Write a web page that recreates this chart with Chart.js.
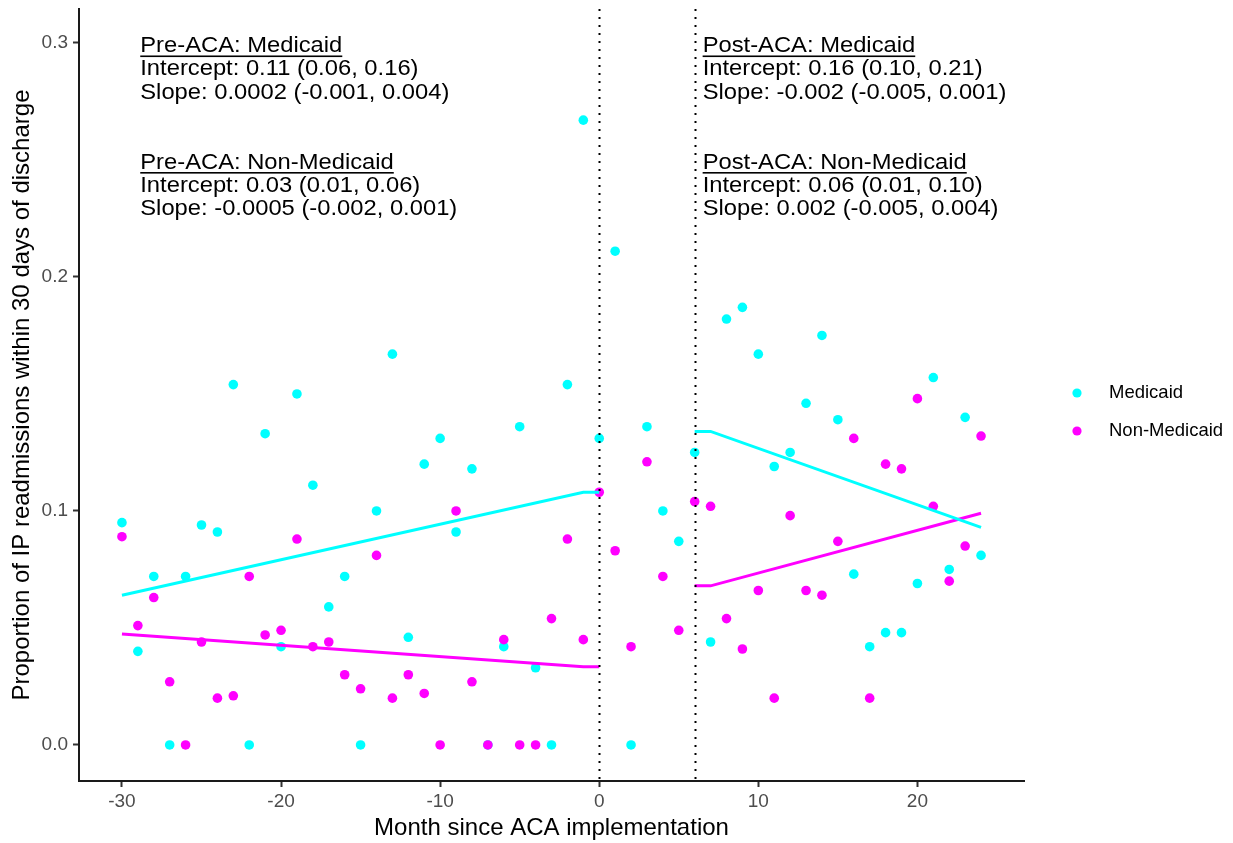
<!DOCTYPE html>
<html>
<head>
<meta charset="utf-8">
<script src="https://cdn.jsdelivr.net/npm/chart.js@4/dist/chart.umd.min.js"></script>
<style>
  html, body { margin: 0; padding: 0; background: #ffffff; }
  #wrap { width: 1233px; height: 843px; position: relative; }
</style>
</head>
<body>
<div id="wrap"><canvas id="chart" width="1233" height="843"></canvas></div>
<script>
// Months relative to ACA implementation
const months = [-30, -29, -28, -27, -26, -25, -24, -23, -22, -21, -20, -19, -18, -17, -16, -15, -14, -13, -12, -11,
                -10, -9, -8, -7, -6, -5, -4, -3, -2, -1, 0, 1, 2, 3, 4, 5, 6, 7, 8, 9,
                10, 11, 12, 13, 14, 15, 16, 17, 18, 19, 20, 21, 22, 23, 24];

// Monthly proportion of IP readmissions within 30 days
const medicaid = [0.095, 0.040, 0.072, 0.000, 0.072, 0.094, 0.091, 0.154, 0.000, 0.133,
                  0.042, 0.150, 0.111, 0.059, 0.072, 0.000, 0.100, 0.167, 0.046, 0.120,
                  0.131, 0.091, 0.118, 0.000, 0.042, 0.136, 0.033, 0.000, 0.154, 0.267,
                  0.131, 0.211, 0.000, 0.136, 0.100, 0.087, 0.125, 0.044, 0.182, 0.187,
                  0.167, 0.119, 0.125, 0.146, 0.175, 0.139, 0.073, 0.042, 0.048, 0.048,
                  0.069, 0.157, 0.075, 0.140, 0.081];
const nonMedicaid = [0.089, 0.051, 0.063, 0.027, 0.000, 0.044, 0.020, 0.021, 0.072, 0.047,
                     0.049, 0.088, 0.042, 0.044, 0.030, 0.024, 0.081, 0.020, 0.030, 0.022,
                     0.000, 0.100, 0.027, 0.000, 0.045, 0.000, 0.000, 0.054, 0.088, 0.045,
                     0.108, 0.083, 0.042, 0.121, 0.072, 0.049, 0.104, 0.102, 0.054, 0.041,
                     0.066, 0.020, 0.098, 0.066, 0.064, 0.087, 0.131, 0.020, 0.120, 0.118,
                     0.148, 0.102, 0.070, 0.085, 0.132];

// Fitted segments before and after implementation
const fitMonthsPre = [-30, -1, 0];
const fitMedicaidPre = [0.064, 0.108, 0.108];
const fitNonMedicaidPre = [0.0474, 0.0334, 0.0334];
const fitMonthsPost = [6, 7, 24];
const fitMedicaidPost = [0.134, 0.134, 0.093];
const fitNonMedicaidPost = [0.068, 0.068, 0.099];

// Axes
const xTicks = [-30, -20, -10, 0, 10, 20];
const yTicks = [0, 0.1, 0.2, 0.3];
const breakMonths = [0, 6];
const seriesNames = ['Medicaid', 'Non-Medicaid'];

// Model summaries
const notePreMedicaid = ['Pre-ACA: Medicaid', 'Intercept: 0.11 (0.06, 0.16)', 'Slope: 0.0002 (-0.001, 0.004)'];
const notePreNonMedicaid = ['Pre-ACA: Non-Medicaid', 'Intercept: 0.03 (0.01, 0.06)', 'Slope: -0.0005 (-0.002, 0.001)'];
const notePostMedicaid = ['Post-ACA: Medicaid', 'Intercept: 0.16 (0.10, 0.21)', 'Slope: -0.002 (-0.005, 0.001)'];
const notePostNonMedicaid = ['Post-ACA: Non-Medicaid', 'Intercept: 0.06 (0.01, 0.10)', 'Slope: 0.002 (-0.005, 0.004)'];

const CYAN = '#00FFFF';
const MAGENTA = '#FF00FF';
const FONT = "'Liberation Sans', Arial, sans-serif";

const toPoints = (xs, ys) => xs.map((m, i) => ({ x: m, y: ys[i] }));

// Annotation blocks anchored in data coordinates
const noteBlocks = [
  { lines: notePreMedicaid, x: -28.85, y: 0.2987 },
  { lines: notePreNonMedicaid, x: -28.85, y: 0.2489 },
  { lines: notePostMedicaid, x: 6.5, y: 0.2987 },
  { lines: notePostNonMedicaid, x: 6.5, y: 0.2489 }
];

const overlay = {
  id: 'overlay',
  afterDatasetsDraw(chart) {
    const { ctx, chartArea: a, scales: { x } } = chart;
    ctx.save();
    ctx.strokeStyle = '#000000';
    ctx.lineWidth = 2;
    ctx.setLineDash([2, 6]);
    breakMonths.forEach(m => {
      const px = Math.round(x.getPixelForValue(m)) + 0.5;
      ctx.beginPath();
      ctx.moveTo(px, a.top);
      ctx.lineTo(px, a.bottom);
      ctx.stroke();
    });
    ctx.restore();
  },
  afterDraw(chart) {
    const { ctx, scales: { x, y } } = chart;
    ctx.save();
    // model summary text
    const stretch = 1.08;
    ctx.fillStyle = '#000000';
    ctx.textBaseline = 'middle';
    ctx.textAlign = 'left';
    ctx.font = '22px ' + FONT;
    noteBlocks.forEach(b => {
      const px = x.getPixelForValue(b.x);
      b.lines.forEach((t, i) => {
        const py = y.getPixelForValue(b.y - i * 0.01);
        ctx.save();
        ctx.translate(px, py);
        ctx.scale(stretch, 1);
        ctx.fillText(t, 0, 0);
        if (i === 0) {
          const w = ctx.measureText(t).width;
          ctx.fillRect(0, 9.5, w, 1.6);
        }
        ctx.restore();
      });
    });
    // legend
    const legendX = 1077, legendTextX = 1109, legendY = [393, 431];
    ctx.font = '18.5px ' + FONT;
    [0, 1].forEach(i => {
      const ds = chart.data.datasets[i];
      ctx.beginPath();
      ctx.fillStyle = ds.backgroundColor;
      ctx.arc(legendX, legendY[i], 4.6, 0, Math.PI * 2);
      ctx.fill();
      ctx.fillStyle = '#000000';
      ctx.fillText(ds.label, legendTextX, legendY[i]);
    });
    ctx.restore();
  }
};

const lineStyle = (color) => ({
  showLine: true, borderColor: color, borderWidth: 3, pointRadius: 0,
  pointHoverRadius: 0, fill: false, tension: 0, order: 1
});

new Chart(document.getElementById('chart'), {
  type: 'scatter',
  data: {
    datasets: [
      { label: seriesNames[0], data: toPoints(months, medicaid), backgroundColor: CYAN,
        borderWidth: 0, pointRadius: 4.8, order: 3 },
      { label: seriesNames[1], data: toPoints(months, nonMedicaid), backgroundColor: MAGENTA,
        borderWidth: 0, pointRadius: 4.8, order: 2 },
      Object.assign({ label: 'pre-medicaid', data: toPoints(fitMonthsPre, fitMedicaidPre) }, lineStyle(CYAN)),
      Object.assign({ label: 'pre-non', data: toPoints(fitMonthsPre, fitNonMedicaidPre) }, lineStyle(MAGENTA)),
      Object.assign({ label: 'post-medicaid', data: toPoints(fitMonthsPost, fitMedicaidPost) }, lineStyle(CYAN)),
      Object.assign({ label: 'post-non', data: toPoints(fitMonthsPost, fitNonMedicaidPost) }, lineStyle(MAGENTA))
    ]
  },
  options: {
    responsive: false,
    animation: false,
    devicePixelRatio: 1,
    layout: { autoPadding: false, padding: { left: 0, top: 9, right: 209, bottom: 0 } },
    plugins: { legend: { display: false }, tooltip: { enabled: false } },
    scales: {
      x: {
        type: 'linear', min: -32.7, max: 26.7,
        afterFit(s) { s.height = 62; s.paddingLeft = 0; s.paddingRight = 0; },
        afterBuildTicks(s) { s.ticks = xTicks.map(v => ({ value: v })); },
        grid: { drawOnChartArea: false, drawTicks: true, tickLength: 6, tickColor: '#333333', tickWidth: 2 },
        border: { display: true, color: '#1a1a1a', width: 2 },
        ticks: { color: '#4D4D4D', font: { family: FONT, size: 19 }, padding: 3, callback: v => String(v) },
        title: { display: true, text: 'Month since ACA implementation', color: '#000000',
                 font: { family: FONT, size: 24 }, padding: { top: 0, bottom: 0 } }
      },
      y: {
        type: 'linear', min: -0.0154, max: 0.3145,
        afterFit(s) { s.width = 79; s.paddingTop = 0; s.paddingBottom = 0; },
        afterBuildTicks(s) { s.ticks = yTicks.map(v => ({ value: v })); },
        grid: { drawOnChartArea: false, drawTicks: true, tickLength: 6, tickColor: '#333333', tickWidth: 2 },
        border: { display: true, color: '#1a1a1a', width: 2 },
        ticks: { color: '#4D4D4D', font: { family: FONT, size: 19 }, padding: 5, callback: v => v.toFixed(1) },
        title: { display: true, text: 'Proportion of IP readmissions within 30 days of discharge', color: '#000000',
                 font: { family: FONT, size: 24 }, padding: { top: 8, bottom: 0 } }
      }
    }
  },
  plugins: [overlay]
});
</script>
</body>
</html>
